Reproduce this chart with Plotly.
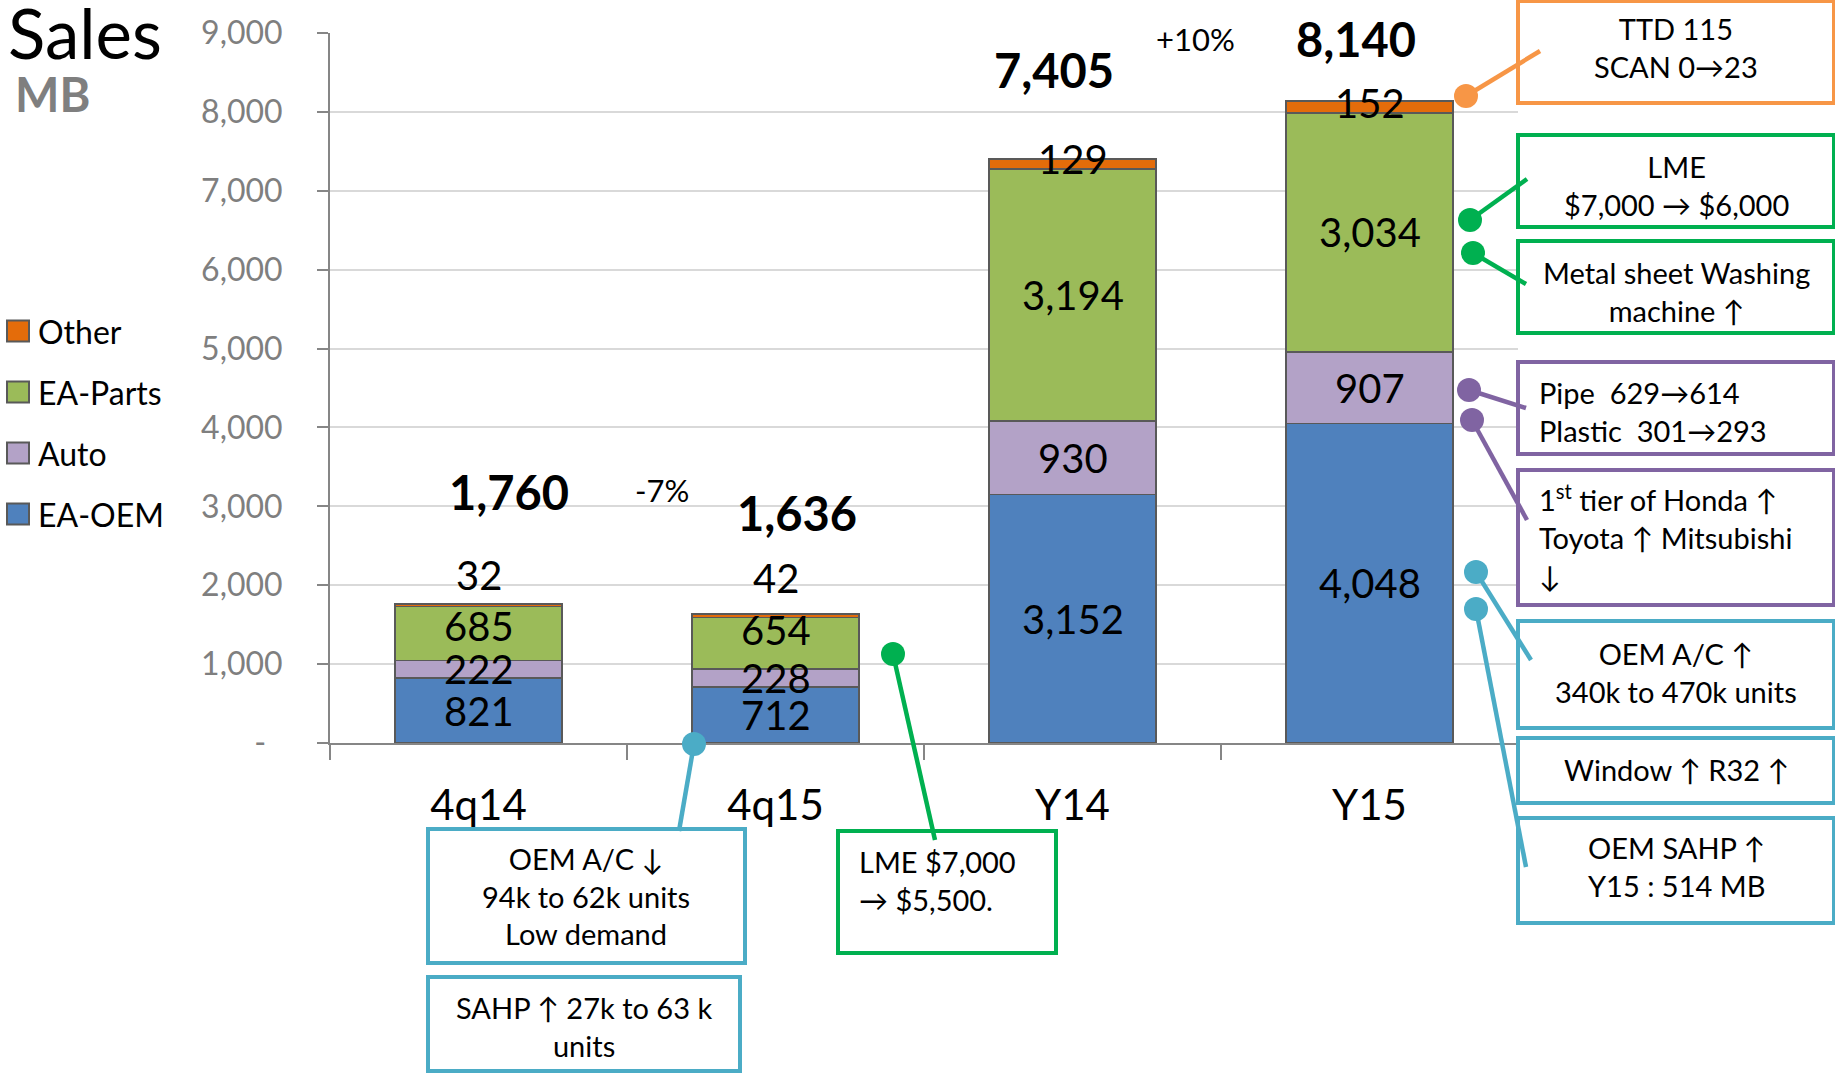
import plotly.graph_objects as go

# ---------------- data ----------------
categories = ["4q14", "4q15", "Y14", "Y15"]
ea_oem = [821, 712, 3152, 4048]
auto = [222, 228, 930, 907]
ea_parts = [685, 654, 3194, 3034]
other = [32, 42, 129, 152]
totals = [1760, 1636, 7405, 8140]
growth_labels = ["-7%", "+10%"]
series_names = ["EA-OEM", "Auto", "EA-Parts", "Other"]
series_values = [ea_oem, auto, ea_parts, other]
series_colors = ["#4F81BD", "#B3A2C7", "#9BBB59", "#E46C0A"]
y_tick_values = [0, 1000, 2000, 3000, 4000, 5000, 6000, 7000, 8000, 9000]
y_tick_labels = ["-\u00a0\u00a0"] + [f"{v:,}" for v in y_tick_values[1:]]

# ---------------- geometry helpers ----------------
W, H = 1835, 1073
L, R, T, B = 330, 317, 33, 330
PW, PH = W - L - R, H - T - B
FONT = "Lato, 'Open Sans', sans-serif"


def px(x):
    return (x - L) / PW


def py(y):
    return (T + PH - y) / PH


fig = go.Figure()
for name, vals, col in zip(series_names, series_values, series_colors):
    fig.add_trace(go.Bar(
        x=categories, y=vals, name=name,
        marker=dict(color=col, line=dict(color="#595959", width=1.5)),
        showlegend=False, hoverinfo="x+y+name",
    ))

annotations = []
shapes = []

# segment value labels (centered in each segment, small nudges like the original)
nudge = {"Other": [30, 38, 5, 4], "EA-Parts": [8, 13, 0, 0]}
for i, cat in enumerate(categories):
    base = 0
    for name, vals in zip(series_names, series_values):
        v = vals[i]
        annotations.append(dict(
            x=cat, y=base + v / 2, xref="x", yref="y", text=f"{v:,}",
            xanchor="center", yanchor="middle",
            showarrow=False, font=dict(family=FONT, size=40, color="black"),
            yshift=nudge.get(name, [0, 0, 0, 0])[i],
        ))
        base += v

# totals
tot_shift = [(30, 112), (21, 101), (-19, 89), (-14, 62)]
for i, cat in enumerate(categories):
    stack_top = sum(vals[i] for vals in series_values)
    annotations.append(dict(
        x=cat, y=stack_top, xref="x", yref="y", text=f"<b>{totals[i]:,}</b>",
        showarrow=False, font=dict(family=FONT, size=47, color="black"),
        xshift=tot_shift[i][0], yshift=tot_shift[i][1], xanchor="center", yanchor="middle",
    ))

# growth labels
for txt, (gx, gy) in zip(growth_labels, [(662, 490), (1195, 39)]):
    annotations.append(dict(x=px(gx), y=py(gy), xref="paper", yref="paper", text=txt,
                            xanchor="center", yanchor="middle",
                            showarrow=False, font=dict(family=FONT, size=31, color="black")))

# title
annotations.append(dict(x=px(6), y=py(32), xref="paper", yref="paper", text="Sales",
                        xanchor="left", yanchor="middle", showarrow=False,
                        font=dict(family=FONT, size=69, color="black")))
annotations.append(dict(x=px(13), y=py(94), xref="paper", yref="paper", text="<b>MB</b>",
                        xanchor="left", yanchor="middle", showarrow=False,
                        font=dict(family=FONT, size=47, color="#7F7F7F")))

# custom legend (top: Other ... bottom: EA-OEM)
for k, (name, col) in enumerate(zip(reversed(series_names), reversed(series_colors))):
    cy = 331 + 61 * k
    shapes.append(dict(type="rect", xref="paper", yref="paper",
                       x0=px(7), x1=px(29), y0=py(cy + 10.5), y1=py(cy - 10.5),
                       fillcolor=col, line=dict(color="#595959", width=2)))
    annotations.append(dict(x=px(36), y=py(cy), xref="paper", yref="paper", text=name,
                            xanchor="left", yanchor="middle", showarrow=False,
                            font=dict(family=FONT, size=32, color="black")))

# callout boxes
ORANGE, GREEN, PURPLE, BLUE = "#F79646", "#00B050", "#8064A2", "#4BACC6"
boxes = [
    (1518, 1834, 1, 103, ORANGE, "TTD 115<br>SCAN 0→23", "center", 1676, 48),
    (1518, 1834, 135, 227, GREEN, "LME<br>$7,000 → $6,000", "center", 1676, 185),
    (1518, 1834, 241, 333, GREEN, "Metal sheet Washing<br>machine ↑", "center", 1676, 292),
    (1518, 1834, 362, 454, PURPLE, "Pipe\u00a0 629→614<br>Plastic\u00a0 301→293", "left", 1537, 412),
    (1518, 1834, 470, 605, PURPLE, "1<sup>st</sup> tier of Honda ↑<br>Toyota ↑ Mitsubishi<br>↓", "left", 1537, 536),
    (1518, 1834, 621, 728, BLUE, "OEM A/C ↑<br>340k to 470k units", "center", 1676, 672),
    (1518, 1834, 738, 803, BLUE, "Window ↑ R32 ↑", "center", 1676, 769),
    (1518, 1834, 818, 923, BLUE, "OEM SAHP ↑<br>Y15 : 514 MB", "center", 1676, 866),
    (428, 745, 829, 963, BLUE, "OEM A/C ↓<br>94k to 62k units<br>Low demand", "center", 586, 896),
    (428, 740, 977, 1071, BLUE, "SAHP ↑ 27k to 63 k<br>units", "center", 584, 1026),
    (838, 1056, 831, 953, GREEN, "LME $7,000<br>→ $5,500.", "left", 857, 880),
]
for x0, x1, y0, y1, col, txt, al, tx, ty in boxes:
    shapes.append(dict(type="rect", xref="paper", yref="paper",
                       x0=px(x0), x1=px(x1), y0=py(y1), y1=py(y0),
                       fillcolor="white", line=dict(color=col, width=4), layer="above"))
    annotations.append(dict(x=px(tx), y=py(ty), xref="paper", yref="paper", text=txt,
                            xanchor="left" if al == "left" else "center", align=al,
                            yanchor="middle", showarrow=False,
                            font=dict(family=FONT, size=29, color="black")))

# connectors: dot -> end
connectors = [
    ((1466, 96), (1540, 51), ORANGE),
    ((1470, 220), (1527, 179), GREEN),
    ((1473, 253), (1526, 284), GREEN),
    ((1469, 390), (1526, 408), PURPLE),
    ((1472, 420), (1527, 520), PURPLE),
    ((1476, 572), (1531, 660), BLUE),
    ((1476, 609), (1526, 867), BLUE),
    ((694, 744), (679, 831), BLUE),
    ((893, 654), (935, 840), GREEN),
]
for (dx, dy), (ex, ey), col in connectors:
    shapes.append(dict(type="line", xref="paper", yref="paper",
                       x0=px(dx), y0=py(dy), x1=px(ex), y1=py(ey),
                       line=dict(color=col, width=4.5), layer="above"))
    shapes.append(dict(type="circle", xref="paper", yref="paper",
                       xsizemode="pixel", ysizemode="pixel",
                       xanchor=px(dx), yanchor=py(dy), x0=-12, x1=12, y0=-12, y1=12,
                       fillcolor=col, line=dict(color=col, width=0), layer="above"))

fig.update_layout(
    width=W, height=H, margin=dict(l=L, r=R, t=T, b=B, pad=0),
    barmode="stack", bargap=0.4375,
    plot_bgcolor="white", paper_bgcolor="white",
    font=dict(family=FONT, color="black"),
    showlegend=False,
    annotations=annotations, shapes=shapes,
    xaxis=dict(
        type="category", range=[-0.5, 3.5], showline=True, linecolor="#868686", linewidth=2,
        ticks="outside", tickson="boundaries", ticklen=15, tickcolor="#868686", tickwidth=2,
        tickfont=dict(family=FONT, size=42, color="black"), ticklabelstandoff=25,
        showgrid=False, zeroline=False,
    ),
    yaxis=dict(
        range=[0, 9000], tickvals=y_tick_values, ticktext=y_tick_labels,
        showline=True, linecolor="#868686", linewidth=2,
        ticks="outside", ticklen=11, tickcolor="#868686", tickwidth=2,
        tickfont=dict(family=FONT, size=32, color="#7F7F7F"), ticklabelstandoff=28,
        showgrid=True, gridcolor="#D9D9D9", gridwidth=2, zeroline=False,
    ),
)

fig.write_html(
    "out.html",
    config={"displayModeBar": False},
    post_script="document.body.style.margin='0';document.body.style.overflow='hidden';",
)
